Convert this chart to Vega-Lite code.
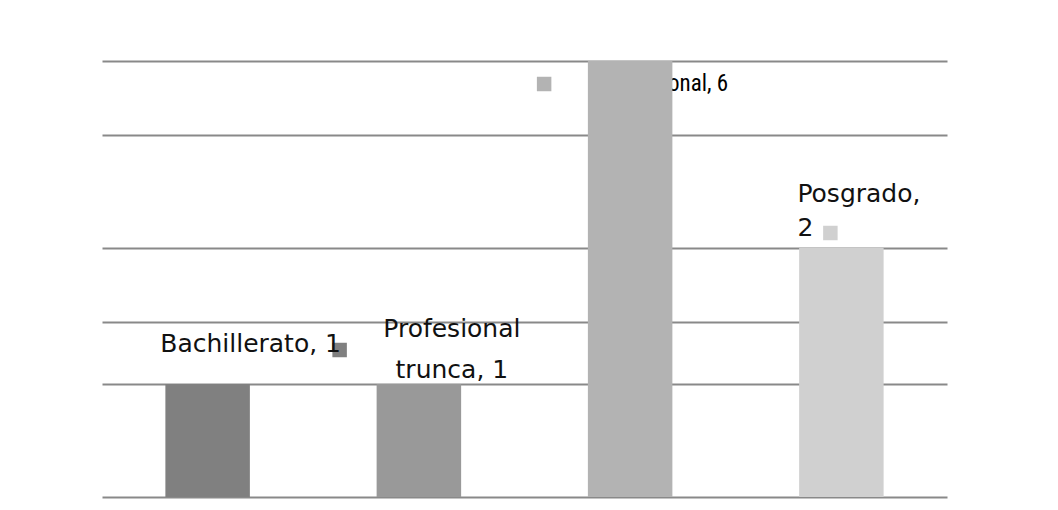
{
  "$schema": "https://vega.github.io/schema/vega-lite/v6.json",
  "autosize": "none",
  "width": 845,
  "height": 436,
  "padding": {"left": 102, "top": 61, "right": 111, "bottom": 13},
  "background": "white",
  "config": {"view": {"stroke": null}},
  "data": {"values": [
    {"nivel": "Bachillerato", "valor": 1, "etiqueta": "Bachillerato, 1"},
    {"nivel": "Profesional trunca", "valor": 1, "etiqueta": "Profesional\ntrunca, 1"},
    {"nivel": "Profesional", "valor": 6, "etiqueta": "Profesional, 6"},
    {"nivel": "Posgrado", "valor": 2, "etiqueta": "Posgrado,\n2"}
  ]},
  "encoding": {
    "x": {"field": "nivel", "type": "nominal",
          "sort": ["Bachillerato", "Profesional trunca", "Profesional", "Posgrado"],
          "scale": {"domain": ["Bachillerato", "Profesional trunca", "Profesional", "Posgrado"],
                    "paddingInner": 0.6, "paddingOuter": 0.3}, "axis": null},
    "y": {"field": "valor", "type": "quantitative",
          "scale": {"domain": [0, 1, 2, 6], "range": [436, 323, 187, 0], "nice": false},
          "axis": {"values": [0, 1, 1.456, 2, 4.42, 6], "grid": true, "labels": false, "ticks": false,
                   "domain": false, "title": null, "gridColor": "#898989", "gridWidth": 2}}
  },
  "layer": [
    {
      "transform": [{"filter": "datum.nivel === 'Profesional'"}],
      "mark": {"type": "text", "align": "right", "baseline": "alphabetic", "dx": 98, "dy": 30,
               "font": "Liberation Sans Narrow, Roboto Condensed, Liberation Sans", "fontSize": 23, "color": "#000000"},
      "encoding": {"text": {"field": "etiqueta"}}
    },
    {
      "transform": [{"filter": "datum.nivel === 'Profesional'"}],
      "mark": {"type": "point", "shape": "square", "filled": true, "size": 210, "opacity": 1,
               "xOffset": -86, "yOffset": 23, "color": "#b3b3b3"}
    },
    {
      "mark": {"type": "bar"},
      "encoding": {
        "color": {"field": "nivel", "type": "nominal", "legend": null,
                  "scale": {"domain": ["Bachillerato", "Profesional trunca", "Profesional", "Posgrado"],
                            "range": ["#808080", "#999999", "#b3b3b3", "#d0d0d0"]}}
      }
    },
    {
      "transform": [{"filter": "datum.nivel === 'Bachillerato'"}],
      "mark": {"type": "point", "shape": "square", "filled": true, "size": 210, "opacity": 1,
               "xOffset": 132, "yOffset": -34, "color": "#808080"}
    },
    {
      "transform": [{"filter": "datum.nivel === 'Bachillerato'"}],
      "mark": {"type": "text", "align": "center", "baseline": "alphabetic", "dx": 43, "dy": -32,
               "font": "DejaVu Sans", "fontSize": 25, "color": "#111111"},
      "encoding": {"text": {"field": "etiqueta"}}
    },
    {
      "transform": [{"filter": "datum.nivel === 'Profesional trunca'"}],
      "mark": {"type": "text", "align": "center", "baseline": "alphabetic", "dx": 33, "dy": -47,
               "lineBreak": "\n", "lineHeight": 41,
               "font": "DejaVu Sans", "fontSize": 25, "color": "#111111"},
      "encoding": {"text": {"field": "etiqueta"}}
    },
    {
      "transform": [{"filter": "datum.nivel === 'Posgrado'"}],
      "mark": {"type": "text", "align": "left", "baseline": "alphabetic", "dx": -44, "dy": -46,
               "lineBreak": "\n", "lineHeight": 34,
               "font": "DejaVu Sans", "fontSize": 25, "color": "#111111"},
      "encoding": {"text": {"field": "etiqueta"}}
    },
    {
      "transform": [{"filter": "datum.nivel === 'Posgrado'"}],
      "mark": {"type": "point", "shape": "square", "filled": true, "size": 210, "opacity": 1,
               "xOffset": -11, "yOffset": -15, "color": "#d0d0d0"}
    }
  ]
}
